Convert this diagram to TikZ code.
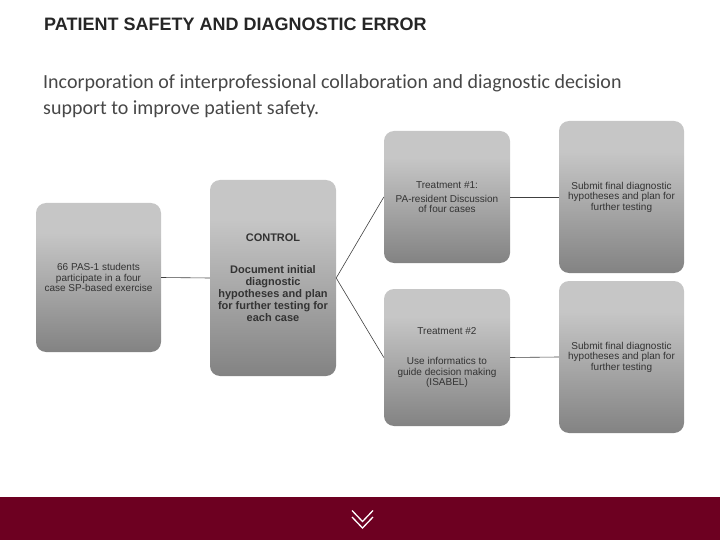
\documentclass[tikz,border=0pt]{standalone}
\usepackage{fontspec}
\usetikzlibrary{calc}
\setmainfont{Liberation Sans}
\newfontfamily\subfont[Ligatures=NoCommon]{Carlito}
\definecolor{boxlt}{HTML}{C6C6C6}
\definecolor{boxdk}{HTML}{666666}
\definecolor{txt}{HTML}{333333}
\definecolor{maroon}{HTML}{6D0021}
\pgfdeclareverticalshading{boxshade}{100bp}{color(0bp)=(boxdk); color(8bp)=(boxdk); color(65bp)=(boxlt); color(100bp)=(boxlt)}
\begin{document}
\begin{tikzpicture}[x=1pt,y=-1pt,
  box/.style={rounded corners=10pt, shading=boxshade, draw=none, inner sep=0pt,
    align=center, text=txt, font=\fontsize{10}{10.5}\selectfont},
  boldbox/.style={box, font=\fontsize{11}{12}\selectfont\bfseries},
  conn/.style={draw=black!75, line width=0.6pt}]
\useasboundingbox (0,0) rectangle (720,540);
% title
\node[anchor=base west, inner sep=0pt, text=black!85, font=\fontsize{18}{20}\selectfont\bfseries] (title) at (44,31) {PATIENT SAFETY AND DIAGNOSTIC ERROR};
\node[anchor=base west, inner sep=0pt, text=black!72, align=left, font=\subfont\fontsize{20}{26}\selectfont] (sub) at (43,115) {Incorporation of interprofessional collaboration and diagnostic decision\\support to improve patient safety.};
% boxes
\node[box, minimum width=125pt, minimum height=149pt] (a) at (98.5,277.5) {66 PAS-1 students\\participate in a four\\case SP-based exercise};
\node[boldbox, minimum width=126pt, minimum height=196pt] (b) at (273,278) {CONTROL\\[20pt]Document initial\\diagnostic\\hypotheses and plan\\for further testing for\\each case};
\node[box, minimum width=126pt, minimum height=132pt] (c) at (447,197) {Treatment \#1:\\[3.5pt]PA-resident Discussion\\of four cases};
\node[box, minimum width=125pt, minimum height=152pt] (d) at (621.5,197) {Submit final diagnostic\\hypotheses and plan for\\further testing};
\node[box, minimum width=126pt, minimum height=137pt] (e) at (447,357.5) {Treatment \#2\\[20pt]Use informatics to\\guide decision making\\(ISABEL)};
\node[box, minimum width=125pt, minimum height=152pt] (f) at (621.5,357) {Submit final diagnostic\\hypotheses and plan for\\further testing};
% connectors
\draw[conn] (a.east) -- (b.west);
\draw[conn] (c.west) -- (b.east) -- (e.west);
\draw[conn] (c.east) -- (d.west);
\draw[conn] (e.east) -- (f.west);
% bottom bar
\fill[maroon] (0,497) rectangle (720,540);
\coordinate (v1) at (362.5,521.5);
\coordinate (v2) at (362.5,528);
\draw[white, line width=1.3pt] ($(v1)+(-10.5,-11)$) -- (v1) -- ($(v1)+(10.5,-11)$);
\draw[white, line width=1.3pt] ($(v2)+(-10.5,-11)$) -- (v2) -- ($(v2)+(10.5,-11)$);
\end{tikzpicture}
\end{document}
